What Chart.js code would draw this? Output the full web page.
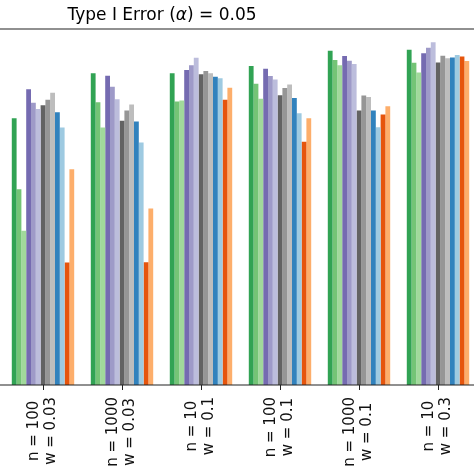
<!DOCTYPE html>
<html>
<head>
<meta charset="utf-8">
<script src="https://cdn.jsdelivr.net/npm/chart.js@4/dist/chart.umd.min.js"></script>
<style>
  html, body { margin: 0; padding: 0; background: #fff; overflow: hidden; }
  #wrap { position: absolute; left: 0; top: 0; width: 481px; height: 474px; }
</style>
</head>
<body>
<div id="wrap"><canvas id="c" width="481" height="474"></canvas></div>
<script>
// ---- data ----
const titleText = ["Type I Error (", "α", ") = 0.05"];
const categories = [
  ["n = 100", "w = 0.03"],
  ["n = 1000", "w = 0.03"],
  ["n = 10", "w = 0.1"],
  ["n = 100", "w = 0.1"],
  ["n = 1000", "w = 0.1"],
  ["n = 10", "w = 0.3"]
];
const seriesNames = ["G1","G2","G3","P1","P2","P3","K1","K2","K3","B1","B2","O1","O2"];
const green1  = [0.749, 0.876, 0.876, 0.896, 0.939, 0.942];
const green2  = [0.550, 0.794, 0.796, 0.846, 0.913, 0.905];
const green3  = [0.433, 0.723, 0.799, 0.804, 0.898, 0.878];
const purple1 = [0.831, 0.869, 0.885, 0.888, 0.924, 0.932];
const purple2 = [0.793, 0.838, 0.898, 0.868, 0.911, 0.947];
const purple3 = [0.775, 0.803, 0.919, 0.858, 0.902, 0.963];
const grey1   = [0.786, 0.742, 0.873, 0.814, 0.771, 0.906];
const grey2   = [0.801, 0.771, 0.882, 0.834, 0.813, 0.925];
const grey3   = [0.821, 0.788, 0.876, 0.844, 0.809, 0.918];
const blue1   = [0.766, 0.740, 0.866, 0.806, 0.771, 0.920];
const blue2   = [0.723, 0.681, 0.862, 0.763, 0.724, 0.927];
const orange1 = [0.344, 0.345, 0.801, 0.683, 0.760, 0.923];
const orange2 = [0.606, 0.496, 0.835, 0.749, 0.783, 0.910];
const seriesValues = [green1, green2, green3, purple1, purple2, purple3,
                      grey1, grey2, grey3, blue1, blue2, orange1, orange2];
const seriesColors = ["#31a354","#74c476","#a1d99b","#756bb1","#9e9ac8","#bcbddc",
                      "#636363","#969696","#bdbdbd","#3182bd","#9ecae1","#e6550d","#fdae6b"];

const spinePlugin = {
  id: "spines",
  afterDraw(chart) {
    const ctx = chart.ctx, a = chart.chartArea, w = chart.width;
    ctx.save();
    ctx.strokeStyle = "#222";
    ctx.lineWidth = 1.2;
    ctx.beginPath();
    ctx.moveTo(0, a.top); ctx.lineTo(w, a.top);
    ctx.moveTo(0, a.bottom); ctx.lineTo(w, a.bottom);
    ctx.stroke();
    // title
    const fN = "17px 'DejaVu Sans'", fI = "oblique 17px 'DejaVu Sans'";
    ctx.fillStyle = "#000";
    ctx.textBaseline = "alphabetic";
    ctx.textAlign = "left";
    ctx.font = fN; const w0 = ctx.measureText(titleText[0]).width;
    ctx.font = fI; const w1 = ctx.measureText(titleText[1]).width;
    ctx.font = fN; const w2 = ctx.measureText(titleText[2]).width;
    let x = 162 - (w0 + w1 + w2) / 2;
    const y = 20;
    ctx.font = fN; ctx.fillText(titleText[0], x, y); x += w0;
    ctx.font = fI; ctx.fillText(titleText[1], x, y); x += w1;
    ctx.font = fN; ctx.fillText(titleText[2], x, y);
    // rotated two-line category labels, lines centred on each other
    const xs = chart.scales.x;
    ctx.font = "15px 'DejaVu Sans'";
    ctx.fillStyle = "#111";
    ctx.textAlign = "center";
    ctx.textBaseline = "middle";
    const lh = 17, topY = a.bottom + 12;
    categories.forEach((lines, i) => {
      const px = xs.getPixelForTick(i);
      const maxW = Math.max(...lines.map(s => ctx.measureText(s).width));
      const cy = topY + maxW / 2;
      lines.forEach((s, j) => {
        const lx = px + (j - (lines.length - 1) / 2) * lh - 0.5;
        ctx.save();
        ctx.translate(lx, cy);
        ctx.rotate(-Math.PI / 2);
        ctx.fillText(s, 0, 0);
        ctx.restore();
      });
    });
    ctx.restore();
  }
};

new Chart(document.getElementById("c"), {
  type: "bar",
  data: {
    labels: categories,
    datasets: seriesValues.map((vals, i) => ({
      label: seriesNames[i],
      data: vals,
      backgroundColor: seriesColors[i],
      borderWidth: 0,
      categoryPercentage: 0.79,
      barPercentage: 1.0
    }))
  },
  options: {
    responsive: false,
    animation: false,
    devicePixelRatio: 1,
    layout: { padding: { left: 3.5, right: 3.5, top: 29, bottom: 0 } },
    plugins: { legend: { display: false }, title: { display: false }, tooltip: { enabled: false } },
    scales: {
      x: {
        offset: true,
        grid: { offset: false, drawOnChartArea: false, drawTicks: true, tickLength: 5, color: "#222", lineWidth: 1 },
        border: { display: false },
        ticks: { display: false, autoSkip: false },
        afterFit(scale) { scale.height = 89; }
      },
      y: { display: false, min: 0, max: 1 }
    }
  },
  plugins: [spinePlugin]
});
</script>
</body>
</html>
